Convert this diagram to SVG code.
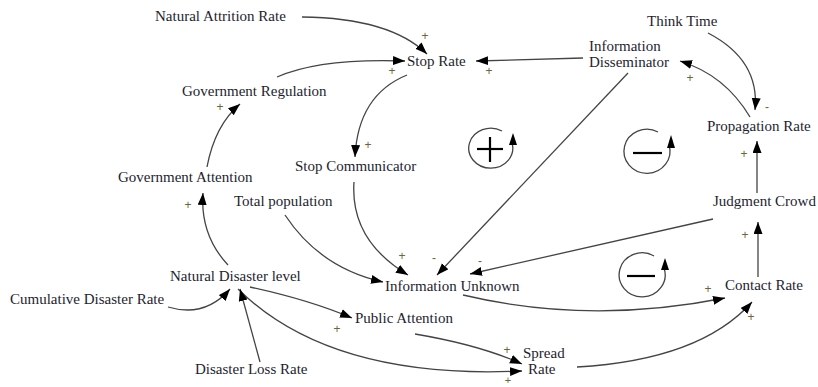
<svg xmlns="http://www.w3.org/2000/svg" width="818" height="387" viewBox="0 0 818 387">
<defs>
<marker id="ah" markerUnits="userSpaceOnUse" markerWidth="13" markerHeight="10" refX="12" refY="4.5" orient="auto">
<path d="M0,0 L12,4.5 L0,9 z" fill="#000"/>
</marker>
<style>
.lbl{font-family:"Liberation Serif","Times New Roman",serif;font-size:15px;fill:#1e1e2e}
.sg{font-family:"Liberation Sans",Arial,sans-serif;font-size:12px;fill:#6e6436;text-anchor:middle}
.c{fill:none;stroke:#444;stroke-width:1.3;marker-end:url(#ah)}
.loop{fill:none;stroke:#444;stroke-width:1.3}
.lb{stroke:#000;stroke-width:2.2}
</style>
</defs>
<rect width="818" height="387" fill="#fff"/>
<g id="connectors">
<path class="c" d="M302,17 Q390,18 427,54"/>
<path class="c" d="M277,77 Q320,58 405,61"/>
<path class="c" d="M583,58 L476,61"/>
<path class="c" d="M407,75 Q358,95 355,157"/>
<path class="c" d="M207,167 Q215,125 240,104"/>
<path class="c" d="M228,265 Q200,235 203,193"/>
<path class="c" d="M354,182 Q350,240 408,275"/>
<path class="c" d="M285,215 Q320,268 383,282"/>
<path class="c" d="M628,73 L437,275"/>
<path class="c" d="M713,219 L470,274"/>
<path class="c" d="M463,295 Q590,325 725,298"/>
<path class="c" d="M577,367 Q700,360 752,302"/>
<path class="c" d="M415,334 Q480,345 522,364"/>
<path class="c" d="M238,289 Q330,380 522,371"/>
<path class="c" d="M250,287 Q310,300 352,318"/>
<path class="c" d="M168,307 Q205,318 230,289"/>
<path class="c" d="M260,362 L240,289"/>
<path class="c" d="M708,33 Q760,60 755,110"/>
<path class="c" d="M750,117 Q725,75 680,61"/>
<path class="c" d="M757,193 L757,141"/>
<path class="c" d="M758,277 L758,222"/>
</g>
<g id="loop-plus">
<path class="loop" d="M502,131 A22,20 0 1 0 512,143"/>
<polygon points="513,133 509,145 517,145" fill="#000"/>
<line class="lb" x1="477" y1="149" x2="503" y2="149"/>
<line class="lb" x1="490" y1="137" x2="490" y2="162"/>
</g>
<g id="loop-minus-top">
<path class="loop" d="M658,132 A23,22 0 1 0 669,145"/>
<polygon points="671,135 667,148 675,148" fill="#000"/>
<line class="lb" x1="633" y1="153" x2="662" y2="153"/>
</g>
<g id="loop-minus-bottom">
<path class="loop" d="M654,256 A23,22 0 1 0 664,268"/>
<polygon points="665,258 661,270 669,270" fill="#000"/>
<line class="lb" x1="627" y1="276" x2="655" y2="276"/>
</g>
<g id="natural-attrition-rate"><text class="lbl" x="155" y="21">Natural Attrition Rate</text></g>
<g id="stop-rate"><text class="lbl" x="407" y="66">Stop Rate</text></g>
<g id="information-disseminator"><text class="lbl" x="589" y="51">Information</text><text class="lbl" x="589" y="67">Disseminator</text></g>
<g id="think-time"><text class="lbl" x="647" y="26">Think Time</text></g>
<g id="propagation-rate"><text class="lbl" x="707" y="131">Propagation Rate</text></g>
<g id="government-regulation"><text class="lbl" x="182" y="96">Government Regulation</text></g>
<g id="government-attention"><text class="lbl" x="118" y="182">Government Attention</text></g>
<g id="stop-communicator"><text class="lbl" x="295" y="171">Stop Communicator</text></g>
<g id="total-population"><text class="lbl" x="234" y="206">Total population</text></g>
<g id="judgment-crowd"><text class="lbl" x="713" y="206">Judgment Crowd</text></g>
<g id="natural-disaster-level"><text class="lbl" x="170" y="281">Natural Disaster level</text></g>
<g id="cumulative-disaster-rate"><text class="lbl" x="10" y="304">Cumulative Disaster Rate</text></g>
<g id="disaster-loss-rate"><text class="lbl" x="195" y="374">Disaster Loss Rate</text></g>
<g id="information-unknown"><text class="lbl" x="385" y="291">Information Unknown</text></g>
<g id="public-attention"><text class="lbl" x="355" y="323">Public Attention</text></g>
<g id="spread-rate"><text class="lbl" x="523" y="358">Spread</text><text class="lbl" x="528" y="374">Rate</text></g>
<g id="contact-rate"><text class="lbl" x="725" y="290">Contact Rate</text></g>
<g id="signs">
<text class="sg" x="425" y="40">+</text>
<text class="sg" x="392" y="75">+</text>
<text class="sg" x="489" y="75">+</text>
<text class="sg" x="368" y="149">+</text>
<text class="sg" x="220" y="111">+</text>
<text class="sg" x="188" y="209">+</text>
<text class="sg" x="402" y="260">+</text>
<text class="sg" x="434" y="262">-</text>
<text class="sg" x="480" y="265">-</text>
<text class="sg" x="708" y="293">+</text>
<text class="sg" x="751" y="321">+</text>
<text class="sg" x="507" y="354">+</text>
<text class="sg" x="508" y="384" style="font-size:11px">+</text>
<text class="sg" x="337" y="333">+</text>
<text class="sg" x="767" y="111">-</text>
<text class="sg" x="690" y="82">+</text>
<text class="sg" x="744" y="158">+</text>
<text class="sg" x="745" y="239">+</text>
</g>
</svg>
